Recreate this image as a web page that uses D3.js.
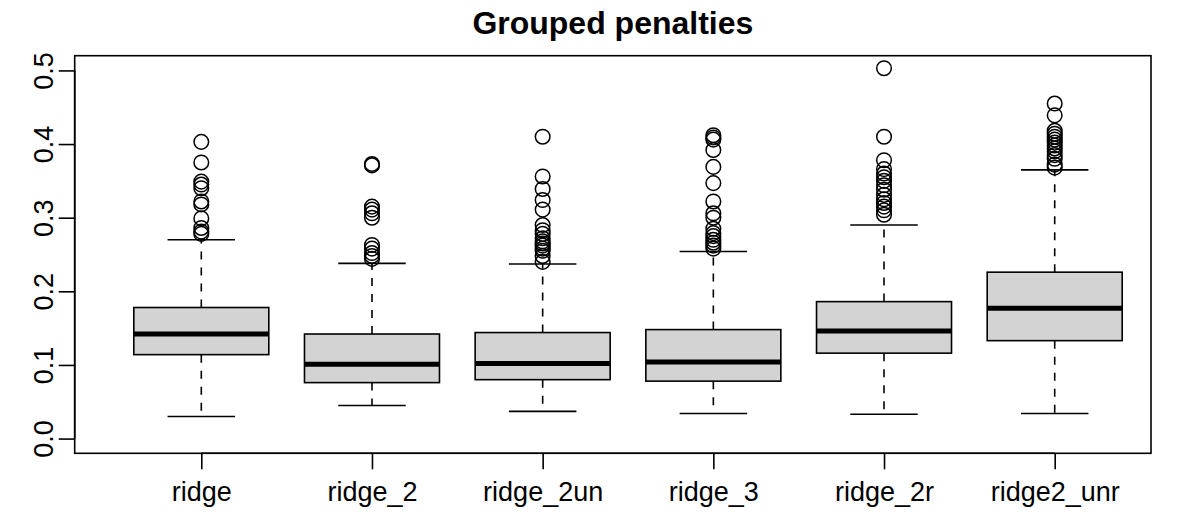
<!DOCTYPE html>
<html lang="en">
<head>
    <meta charset="utf-8">
    <title>Grouped penalties</title>
    <script type="text/javascript" src="https://d3js.org/d3.v7.min.js"></script>
    <style>
        body { margin: 0; background: #fff; }
        text { font-family: "Liberation Sans", Arial, sans-serif; fill: #000; }
    </style>
</head>
<body>
    <div id="chart"></div>

    <script type="text/javascript">

        // Box statistics
        var categories = ["ridge", "ridge_2", "ridge_2un", "ridge_3", "ridge_2r", "ridge2_unr"];
        var lowerWhisker = [0.030, 0.045, 0.037, 0.034, 0.033, 0.034];
        var q1 = [0.114, 0.076, 0.080, 0.078, 0.116, 0.133];
        var medians = [0.142, 0.101, 0.102, 0.104, 0.146, 0.177];
        var q3 = [0.178, 0.142, 0.144, 0.148, 0.186, 0.226];
        var upperWhisker = [0.270, 0.238, 0.237, 0.254, 0.290, 0.365];
        var outliers = [
            [0.403, 0.375, 0.349, 0.345, 0.340, 0.322, 0.318, 0.299, 0.286, 0.281, 0.278],
            [0.373, 0.371, 0.315, 0.311, 0.306, 0.300, 0.263, 0.258, 0.252, 0.248, 0.244],
            [0.410, 0.356, 0.339, 0.324, 0.311, 0.290, 0.283, 0.278, 0.272, 0.268, 0.265, 0.262, 0.258, 0.255, 0.248, 0.240],
            [0.412, 0.409, 0.406, 0.392, 0.369, 0.347, 0.322, 0.306, 0.300, 0.285, 0.279, 0.275, 0.270, 0.266, 0.262, 0.258],
            [0.503, 0.410, 0.378, 0.366, 0.360, 0.355, 0.350, 0.344, 0.338, 0.331, 0.325, 0.320, 0.315, 0.310, 0.304],
            [0.455, 0.439, 0.418, 0.414, 0.410, 0.406, 0.402, 0.398, 0.394, 0.390, 0.385, 0.380, 0.372, 0.368]
        ];
        var yTicks = [0.0, 0.1, 0.2, 0.3, 0.4, 0.5];

        var width = 1177, height = 527;
        var plot = { left: 74.7, right: 1151, top: 55.7, bottom: 453.3 };

        var svg = d3.select("#chart").append("svg")
            .attr("width", width)
            .attr("height", height);

        // Scales
        var x = d3.scaleLinear()
            .domain([1, categories.length])
            .range([201.3, 1054.7]);
        var y = d3.scaleLinear()
            .domain([-0.02, 0.52])
            .range([plot.bottom, plot.top]);

        var boxWidth = 135;

        var boxes = categories.map(function(c, i) {
            return { name: c, i: i + 1, lo: lowerWhisker[i], q1: q1[i], med: medians[i],
                     q3: q3[i], hi: upperWhisker[i], out: outliers[i] };
        });

        var g = svg.selectAll("g.box")
            .data(boxes)
            .enter().append("g")
            .attr("class", "box");

        // dashed whiskers
        g.append("line")
            .attr("x1", function(d) { return x(d.i); })
            .attr("x2", function(d) { return x(d.i); })
            .attr("y1", function(d) { return y(d.q3); })
            .attr("y2", function(d) { return y(d.hi); })
            .attr("stroke", "#000").attr("stroke-width", 1.6)
            .attr("stroke-dasharray", "8,8");
        g.append("line")
            .attr("x1", function(d) { return x(d.i); })
            .attr("x2", function(d) { return x(d.i); })
            .attr("y1", function(d) { return y(d.q1); })
            .attr("y2", function(d) { return y(d.lo); })
            .attr("stroke", "#000").attr("stroke-width", 1.6)
            .attr("stroke-dasharray", "8,8");

        // staples
        ["hi", "lo"].forEach(function(k) {
            g.append("line")
                .attr("x1", function(d) { return x(d.i) - boxWidth / 4; })
                .attr("x2", function(d) { return x(d.i) + boxWidth / 4; })
                .attr("y1", function(d) { return y(d[k]); })
                .attr("y2", function(d) { return y(d[k]); })
                .attr("stroke", "#000").attr("stroke-width", 1.6);
        });

        // boxes
        g.append("rect")
            .attr("x", function(d) { return x(d.i) - boxWidth / 2; })
            .attr("y", function(d) { return y(d.q3); })
            .attr("width", boxWidth)
            .attr("height", function(d) { return y(d.q1) - y(d.q3); })
            .attr("fill", "#d3d3d3")
            .attr("stroke", "#000").attr("stroke-width", 1.6);

        // medians
        g.append("line")
            .attr("x1", function(d) { return x(d.i) - boxWidth / 2; })
            .attr("x2", function(d) { return x(d.i) + boxWidth / 2; })
            .attr("y1", function(d) { return y(d.med); })
            .attr("y2", function(d) { return y(d.med); })
            .attr("stroke", "#000").attr("stroke-width", 5);

        // outliers
        g.selectAll("circle")
            .data(function(d) { return d.out.map(function(v) { return { i: d.i, v: v }; }); })
            .enter().append("circle")
            .attr("cx", function(d) { return x(d.i); })
            .attr("cy", function(d) { return y(d.v); })
            .attr("r", 7.3)
            .attr("fill", "none")
            .attr("stroke", "#000").attr("stroke-width", 1.5);

        // frame
        svg.append("rect")
            .attr("x", plot.left).attr("y", plot.top)
            .attr("width", plot.right - plot.left)
            .attr("height", plot.bottom - plot.top)
            .attr("fill", "none")
            .attr("stroke", "#000").attr("stroke-width", 1.6);

        // y axis
        var yAxis = d3.axisLeft(y)
            .tickValues(yTicks)
            .tickSize(16)
            .tickFormat(d3.format(".1f"));
        var ya = svg.append("g")
            .attr("transform", "translate(" + plot.left + ",0)")
            .call(yAxis);
        ya.select(".domain").attr("d", "M0," + y(0) + "V" + y(0.5)).attr("stroke-width", 1.6);
        ya.selectAll(".tick line").attr("stroke-width", 1.6);
        ya.selectAll(".tick text")
            .attr("font-size", 27)
            .attr("transform", "rotate(-90)")
            .attr("x", 0)
            .attr("y", -22)
            .attr("text-anchor", "middle")
            .attr("dy", null)
            .attr("font-family", null);

        // x axis
        var xAxis = d3.axisBottom(x)
            .tickValues(d3.range(1, categories.length + 1))
            .tickSize(16)
            .tickFormat(function(d) { return categories[d - 1]; });
        var xa = svg.append("g")
            .attr("transform", "translate(0," + plot.bottom + ")")
            .call(xAxis);
        xa.select(".domain").attr("d", "M" + x(1) + ",0H" + x(categories.length)).attr("stroke-width", 1.6);
        xa.selectAll(".tick line").attr("stroke-width", 1.6);
        xa.selectAll(".tick text")
            .attr("font-size", 27)
            .attr("y", 48)
            .attr("dy", null)
            .attr("font-family", null);

        // title
        svg.append("text")
            .attr("x", (plot.left + plot.right) / 2)
            .attr("y", 34)
            .attr("text-anchor", "middle")
            .attr("font-size", 32)
            .attr("font-weight", "bold")
            .text("Grouped penalties");

    </script>
</body>
</html>
